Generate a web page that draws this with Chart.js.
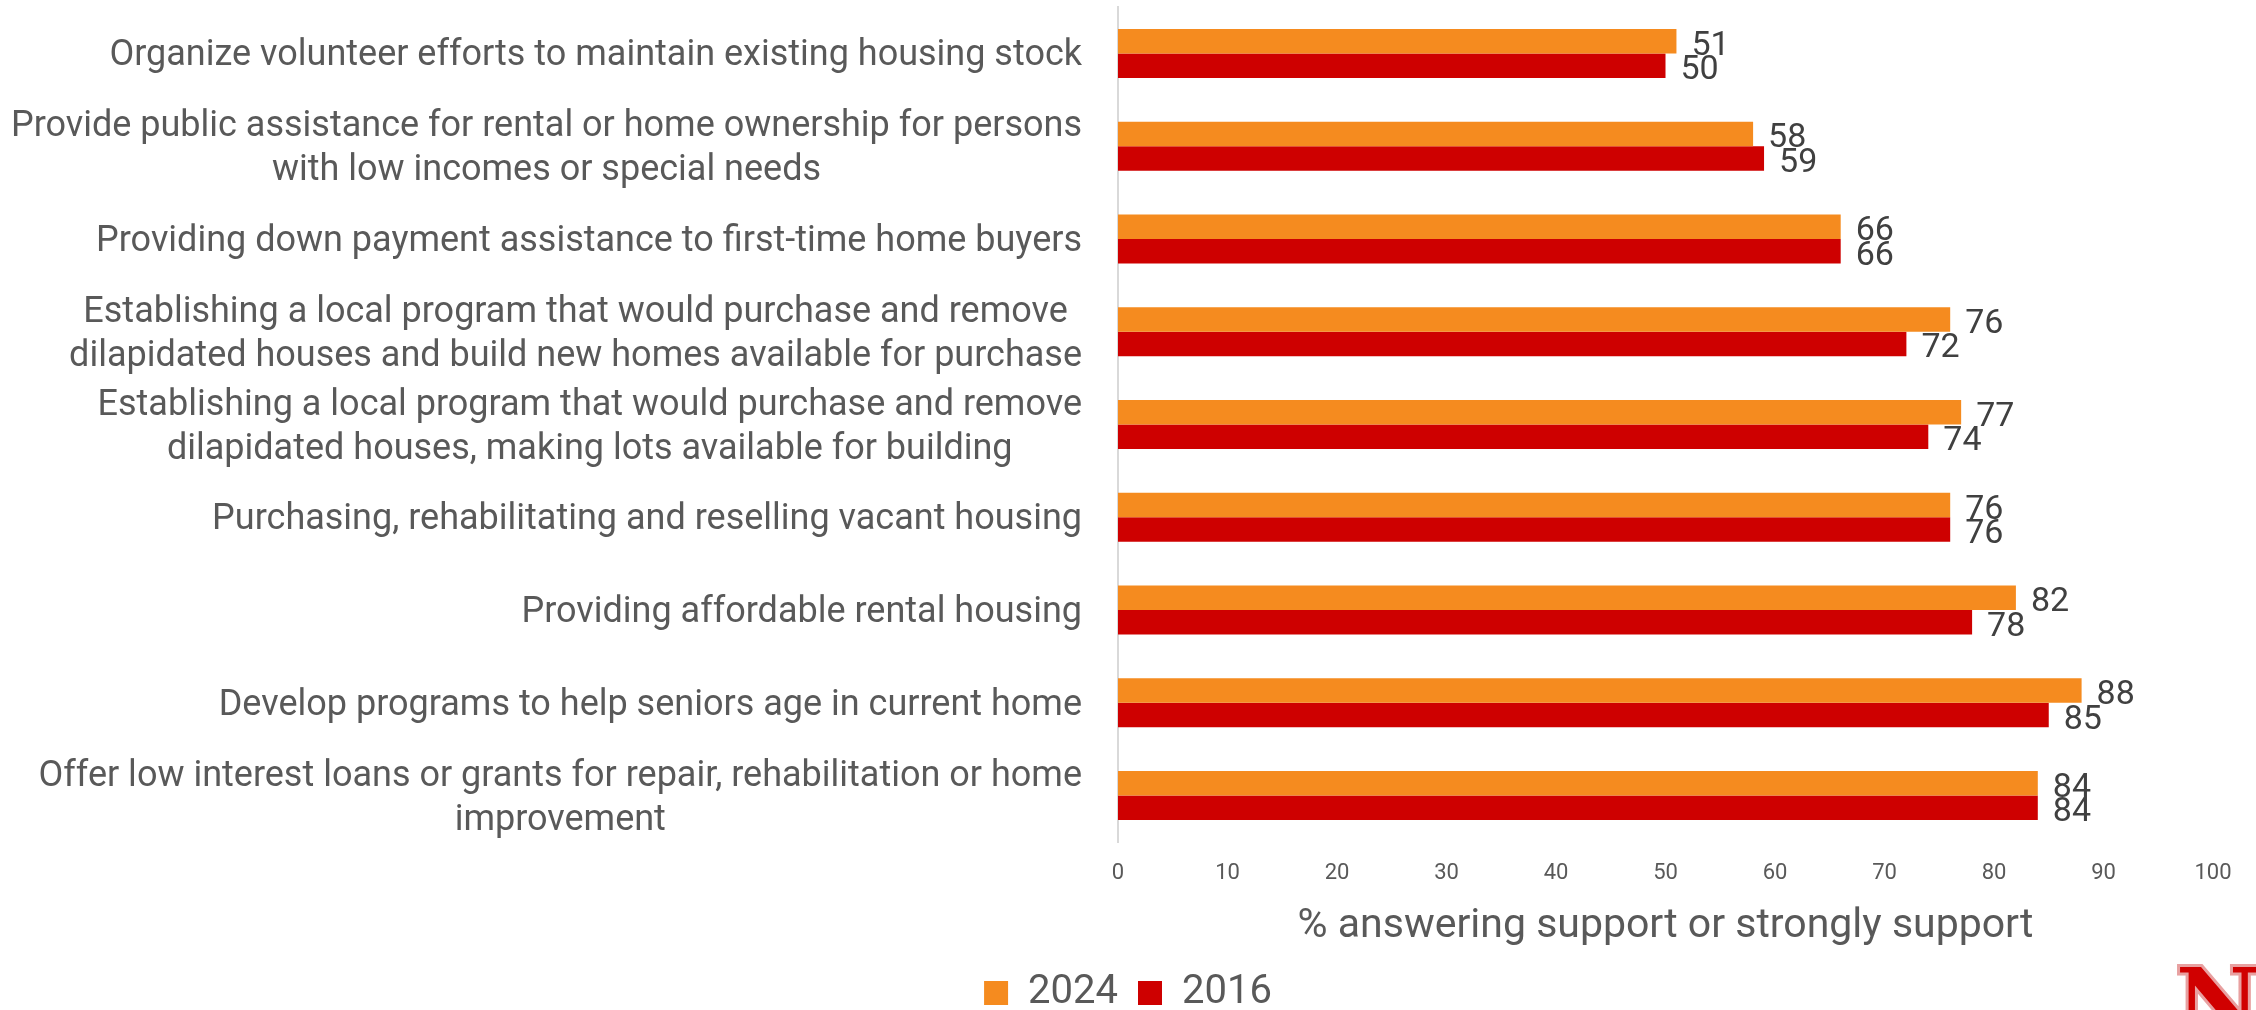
<!DOCTYPE html>
<html>
<head>
<meta charset="utf-8">
<title>Housing program support</title>
<script src="https://cdn.jsdelivr.net/npm/chart.js@4.4.0/dist/chart.umd.min.js"></script>
<style>
  html, body { margin: 0; padding: 0; background: #fff; overflow: hidden; }
  #frame { width: 2256px; height: 1010px; overflow: hidden; }
  #box { width: 2256px; height: 1023px; position: relative; }
</style>
</head>
<body>
<div id="frame"><div id="box"><canvas id="chart"></canvas></div></div>
<script>
// Category labels (top to bottom), split into the lines shown in the picture
const categories = [
  ["Organize volunteer efforts to maintain existing housing stock"],
  ["Provide public assistance for rental or home ownership for persons", "with low incomes or special needs"],
  ["Providing down payment assistance to first-time home buyers"],
  ["Establishing a local program that would purchase and remove", "dilapidated houses and build new homes available for purchase"],
  ["Establishing a local program that would purchase and remove", "dilapidated houses, making lots available for building"],
  ["Purchasing, rehabilitating and reselling vacant housing"],
  ["Providing affordable rental housing"],
  ["Develop programs to help seniors age in current home"],
  ["Offer low interest loans or grants for repair, rehabilitation or home", "improvement"]
];

const seriesNames = ["2024", "2016"];
const values2024 = [51, 58, 66, 76, 77, 76, 82, 88, 84];
const values2016 = [50, 59, 66, 72, 74, 76, 78, 85, 84];

const xTickValues = [0, 10, 20, 30, 40, 50, 60, 70, 80, 90, 100];
const xTitle = "% answering support or strongly support";

const ORANGE = "#F58B1F";
const RED = "#CE0000";
const GREY = "#595959";

// draws the wrapped category labels: block right-aligned, lines centred
const categoryLabels = {
  id: "categoryLabels",
  afterDraw(chart) {
    const { ctx, chartArea } = chart;
    const y = chart.scales.y;
    const right = chartArea.left - 36;
    const lineHeight = 44;
    ctx.save();
    ctx.font = "36px Roboto";
    ctx.fillStyle = GREY;
    ctx.textAlign = "center";
    ctx.textBaseline = "middle";
    categories.forEach((lines, i) => {
      const yc = y.getPixelForValue(i) + 3;
      const widest = Math.max(...lines.map(l => ctx.measureText(l).width));
      const cx = right - widest / 2;
      lines.forEach((line, j) => {
        ctx.fillText(line, cx, yc + (j - (lines.length - 1) / 2) * lineHeight);
      });
    });
    ctx.restore();
  }
};

// value labels at the end of each bar
const valueLabels = {
  id: "valueLabels",
  afterDatasetsDraw(chart) {
    const { ctx } = chart;
    ctx.save();
    ctx.font = "34px Roboto";
    ctx.fillStyle = "#404040";
    ctx.textAlign = "left";
    ctx.textBaseline = "middle";
    chart.data.datasets.forEach((ds, di) => {
      chart.getDatasetMeta(di).data.forEach((bar, i) => {
        ctx.fillText(String(ds.data[i]), bar.x + 15, bar.y + 5);
      });
    });
    ctx.restore();
  }
};

// university "N" mark, bottom right corner
const logoMark = {
  id: "logoMark",
  afterDraw(chart) {
    const { ctx } = chart;
    ctx.save();
    ctx.font = "bold 92px 'DejaVu Serif'";
    ctx.textAlign = "left";
    ctx.textBaseline = "alphabetic";
    ctx.lineJoin = "miter";
    ctx.strokeStyle = "#E8A0A0";
    ctx.lineWidth = 6;
    ctx.strokeText("N", 2176, 1034);
    ctx.fillStyle = "#D00000";
    ctx.fillText("N", 2176, 1034);
    ctx.restore();
  }
};

new Chart(document.getElementById("chart"), {
  type: "bar",
  data: {
    labels: categories,
    datasets: [
      { label: seriesNames[0], data: values2024, backgroundColor: ORANGE },
      { label: seriesNames[1], data: values2016, backgroundColor: RED }
    ]
  },
  options: {
    indexAxis: "y",
    responsive: true,
    maintainAspectRatio: false,
    animation: false,
    devicePixelRatio: 1,
    datasets: {
      bar: { categoryPercentage: 0.528, barPercentage: 1.0 }
    },
    // equal side padding keeps the legend centred on the page
    layout: { padding: { left: 43, right: 43, top: 7, bottom: 0 } },
    plugins: {
      legend: {
        position: "bottom",
        labels: {
          font: { family: "Roboto", size: 40 },
          color: GREY,
          boxWidth: 24,
          boxHeight: 24,
          padding: 20
        }
      },
      tooltip: { enabled: false }
    },
    scales: {
      x: {
        min: 0,
        max: 100,
        afterBuildTicks(scale) {
          scale.ticks = xTickValues.map(v => ({ value: v }));
        },
        afterFit(scale) {
          scale.height = 111;
        },
        grid: { display: false, drawTicks: false },
        border: { display: false },
        ticks: {
          font: { family: "Roboto", size: 22 },
          color: GREY,
          padding: 18
        },
        title: {
          display: true,
          text: xTitle,
          font: { family: "Roboto", size: 41 },
          color: GREY,
          padding: { top: 13, bottom: 2 }
        }
      },
      y: {
        afterFit(scale) {
          scale.width = 1075;
        },
        grid: { display: false, drawTicks: false },
        border: { display: true, color: "#D9D9D9", width: 2 },
        ticks: { display: false }
      }
    }
  },
  plugins: [categoryLabels, valueLabels, logoMark]
});
</script>
</body>
</html>
